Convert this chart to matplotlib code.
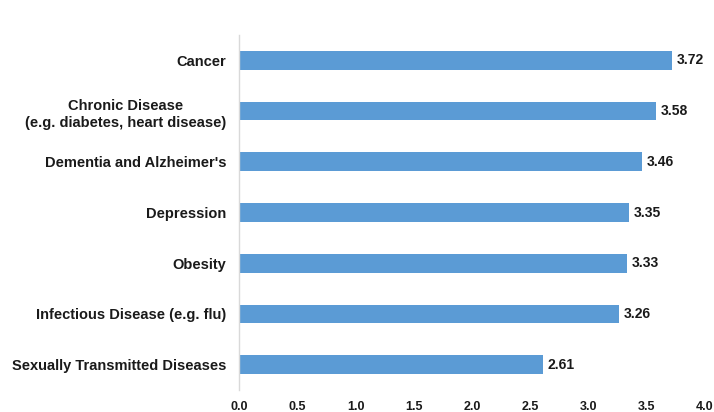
import matplotlib
matplotlib.use("Agg")
import matplotlib.pyplot as plt

categories = [
    "Cancer",
    "Chronic Disease\n(e.g. diabetes, heart disease)",
    "Dementia and Alzheimer's",
    "Depression",
    "Obesity",
    "Infectious Disease (e.g. flu)",
    "Sexually Transmitted Diseases",
]
values = [3.72, 3.58, 3.46, 3.35, 3.33, 3.26, 2.61]
xticks = [0.0, 0.5, 1.0, 1.5, 2.0, 2.5, 3.0, 3.5, 4.0]

plt.rcParams["font.family"] = ["Liberation Sans", "DejaVu Sans"]

fig = plt.figure(figsize=(7.14, 4.12), dpi=100)
ax = fig.add_axes([0.3354, 0.0534, 0.652, 0.8616])

positions = list(range(len(categories)))
ax.barh(positions, values, height=0.37, color="#5B9BD5", edgecolor="none")

for pos, val in zip(positions, values):
    ax.text(val + 0.04, pos, f"{val:.2f}", va="center", ha="left",
            fontsize=10, fontweight="bold", color="#1a1a1a")

ax.set_ylim(len(categories) - 0.5, -0.5)
ax.set_xlim(0, 4.0)
ax.set_yticks(positions)
ax.set_yticklabels(categories, fontsize=10.5, fontweight="bold", color="#1a1a1a",
                   multialignment="center", linespacing=1.3)
ax.set_xticks(xticks)
ax.set_xticklabels([f"{t:.1f}" for t in xticks], fontsize=9, fontweight="bold",
                   color="#1a1a1a")
ax.tick_params(axis="y", length=0, pad=9.5)
ax.tick_params(axis="x", length=0, pad=8)

for side in ("top", "right", "bottom"):
    ax.spines[side].set_visible(False)
ax.spines["left"].set_color("#d9d9d9")
ax.spines["left"].set_linewidth(1.0)

fig.savefig("out.png", dpi=100)
